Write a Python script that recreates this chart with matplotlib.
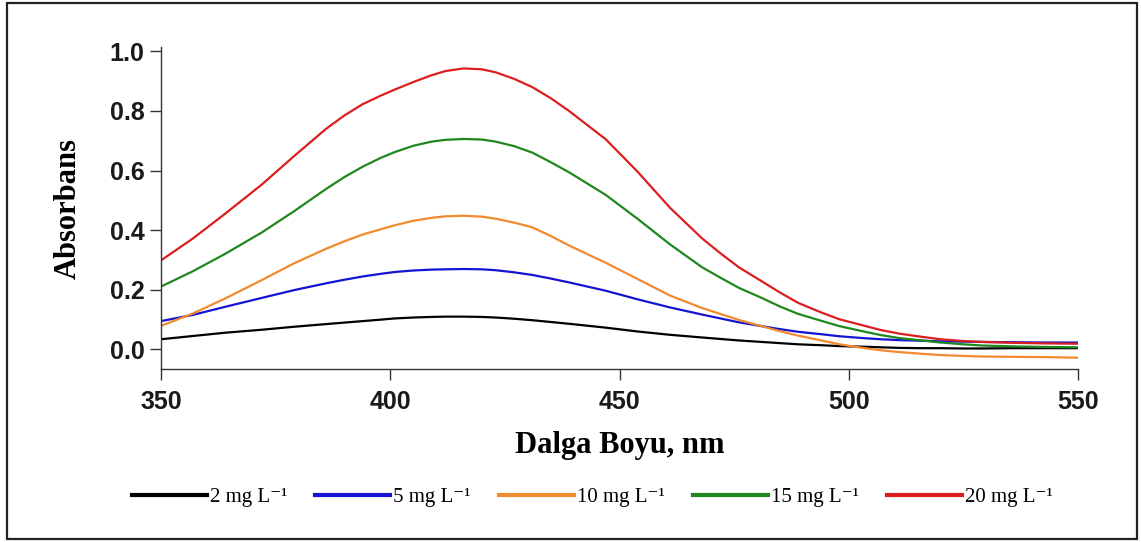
import matplotlib
matplotlib.use("Agg")
from matplotlib import pyplot as plt
from matplotlib.patches import Rectangle

# dalga boyu (nm) ve absorbans degerleri
dalga_boyu = [350, 357, 364, 372, 379, 386, 390, 394, 398, 401, 405, 409, 412, 416, 420, 423,
              427, 431, 435, 439, 447, 454, 461, 468, 472, 476, 481, 485, 489, 494, 498, 503,
              507, 511, 516, 520, 525, 529, 536, 543, 550]

abs_2 = [0.033, 0.044, 0.055, 0.065, 0.075, 0.084, 0.089, 0.094, 0.099, 0.103, 0.106, 0.108,
         0.109, 0.109, 0.108, 0.106, 0.102, 0.097, 0.091, 0.085, 0.072, 0.059, 0.048, 0.039,
         0.034, 0.029, 0.024, 0.020, 0.016, 0.013, 0.010, 0.008, 0.006, 0.004, 0.003, 0.003,
         0.002, 0.002, 0.003, 0.003, 0.003]
abs_5 = [0.094, 0.115, 0.142, 0.172, 0.198, 0.221, 0.233, 0.244, 0.253, 0.259, 0.264, 0.267,
         0.268, 0.269, 0.268, 0.265, 0.258, 0.249, 0.237, 0.224, 0.196, 0.167, 0.140, 0.116,
         0.103, 0.090, 0.077, 0.067, 0.058, 0.050, 0.043, 0.037, 0.033, 0.030, 0.028, 0.026,
         0.025, 0.024, 0.023, 0.022, 0.022]
abs_10 = [0.078, 0.120, 0.170, 0.232, 0.288, 0.337, 0.362, 0.385, 0.403, 0.416, 0.431, 0.441,
          0.446, 0.448, 0.445, 0.438, 0.425, 0.409, 0.380, 0.348, 0.290, 0.235, 0.180, 0.138,
          0.118, 0.098, 0.077, 0.060, 0.045, 0.029, 0.016, 0.004, -0.004, -0.010, -0.016,
          -0.020, -0.023, -0.025, -0.026, -0.027, -0.029]
abs_15 = [0.210, 0.262, 0.320, 0.392, 0.463, 0.538, 0.578, 0.613, 0.643, 0.662, 0.683, 0.697,
          0.703, 0.706, 0.704, 0.697, 0.682, 0.660, 0.628, 0.594, 0.518, 0.437, 0.352, 0.275,
          0.240, 0.206, 0.172, 0.143, 0.118, 0.095, 0.077, 0.060, 0.047, 0.037, 0.029, 0.022,
          0.016, 0.012, 0.009, 0.007, 0.006]
abs_20 = [0.298, 0.372, 0.455, 0.553, 0.648, 0.740, 0.785, 0.823, 0.852, 0.872, 0.897, 0.920,
          0.934, 0.943, 0.940, 0.930, 0.908, 0.880, 0.843, 0.800, 0.705, 0.595, 0.475, 0.372,
          0.322, 0.275, 0.228, 0.190, 0.155, 0.123, 0.100, 0.080, 0.064, 0.052, 0.041, 0.033,
          0.027, 0.024, 0.021, 0.019, 0.018]

etiketler = ['2 mg L⁻¹', '5 mg L⁻¹', '10 mg L⁻¹', '15 mg L⁻¹', '20 mg L⁻¹']
boje = ['black', '#1414d2', '#f28a2e', '#1e881e', '#dc1e1e']

x_ticks = [350, 400, 450, 500, 550]
y_ticks = [0.0, 0.2, 0.4, 0.6, 0.8, 1.0]

fig = plt.figure(figsize=(11.41, 5.42), dpi=100)
ax = fig.add_axes([0.1411, 0.3186, 0.8037, 0.5947])

serije = [abs_2, abs_5, abs_10, abs_15, abs_20]
for vrijednosti, boja, oznaka in zip(serije, boje, etiketler):
    ax.plot(dalga_boyu, vrijednosti, color=boja, lw=1.6, label=oznaka)

ax.set_xlim(350, 550)
ax.set_ylim(-0.068, 1.015)
ax.set_xticks(x_ticks)
ax.set_yticks(y_ticks)
ax.set_yticklabels([f'{v:.1f}' for v in y_ticks])

for s in ['top', 'right']:
    ax.spines[s].set_visible(False)
for s in ['left', 'bottom']:
    ax.spines[s].set_color('#333333')
    ax.spines[s].set_linewidth(1.0)

ax.tick_params(direction='out', length=8, width=1, color='#333333', pad=4)
ax.tick_params(axis='x', pad=7)
for lbl in ax.get_xticklabels() + ax.get_yticklabels():
    lbl.set_fontfamily('Liberation Sans')
    lbl.set_fontweight('bold')
    lbl.set_fontsize(18)
    lbl.set_color('#1a1a1a')

ax.set_xlabel('Dalga Boyu, nm', family='Liberation Serif', fontweight='bold', fontsize=22, labelpad=12)
ax.set_ylabel('Absorbans', family='Liberation Serif', fontweight='bold', fontsize=22, labelpad=19)

fig.legend(loc='center', bbox_to_anchor=(0.519, 0.083), ncol=5, frameon=False,
           prop={'family': ['Liberation Serif', 'DejaVu Serif'], 'size': 15}, handlelength=3.6,
           handletextpad=0.15, columnspacing=1.34)
for linija in fig.legends[0].get_lines():
    linija.set_linewidth(3)

# okvir oko cijele slike
fig.patches.append(Rectangle((0.0061, 0.0055), 0.9904, 0.989, transform=fig.transFigure,
                             fill=False, edgecolor='#222222', lw=1.6))

fig.savefig('out.png', dpi=100)
